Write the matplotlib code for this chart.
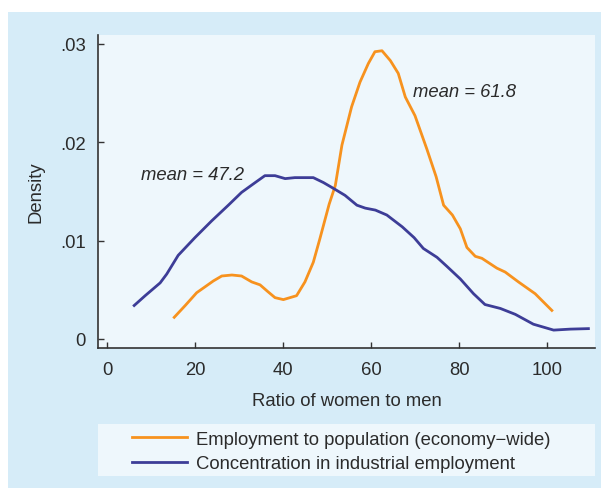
import numpy as np
import matplotlib
matplotlib.use('Agg')
import matplotlib.pyplot as plt
from matplotlib.patches import Rectangle

# data (ratio of women to men, density)
emp_x = [15.2, 17.7, 20.3, 22.2, 24.1, 26.0, 28.3, 30.5, 32.8, 34.7, 36.5, 38.1,
         40.0, 43.0, 44.9, 46.8, 48.3, 50.4, 51.8, 53.3, 55.5, 57.4, 59.3, 60.8,
         62.4, 64.3, 66.1, 67.7, 69.9, 72.6, 74.7, 76.4, 78.4, 80.2, 81.7, 83.6,
         85.1, 88.5, 90.4, 93.4, 97.2, 101.0]
emp_y = [0.0022, 0.0034, 0.0047, 0.0053, 0.0059, 0.0064, 0.0065, 0.0064, 0.0058,
         0.0055, 0.0048, 0.0042, 0.0040, 0.0044, 0.0058, 0.0078, 0.0102, 0.0137,
         0.0156, 0.0197, 0.0236, 0.0261, 0.0280, 0.0292, 0.0293, 0.0283, 0.0270,
         0.0246, 0.0227, 0.0193, 0.0165, 0.0136, 0.0126, 0.0112, 0.0093, 0.0084,
         0.0082, 0.0072, 0.0068, 0.0058, 0.0046, 0.0029]

ind_x = [6.1, 8.6, 12.0, 13.5, 16.1, 19.9, 23.7, 27.5, 30.5, 33.6, 35.8, 38.1,
         40.4, 42.6, 44.5, 46.8, 49.1, 51.4, 54.0, 56.7, 58.6, 60.9, 63.5, 67.0,
         69.7, 71.8, 74.9, 77.1, 80.2, 83.2, 85.8, 89.3, 92.7, 96.8, 101.4, 105.2,
         109.3]
ind_y = [0.0034, 0.0044, 0.0057, 0.0066, 0.0085, 0.0103, 0.0120, 0.0136, 0.0149,
         0.0159, 0.0166, 0.0166, 0.0163, 0.0164, 0.0164, 0.0164, 0.0159, 0.0153,
         0.0146, 0.0136, 0.0133, 0.0131, 0.0126, 0.0114, 0.0103, 0.0092, 0.0083,
         0.0074, 0.0061, 0.0046, 0.0035, 0.0031, 0.0025, 0.0015, 0.0009, 0.0010,
         0.00105]

labels = ['Employment to population (economy\u2212wide)',
          'Concentration in industrial employment']
xticks = [0, 20, 40, 60, 80, 100]
yticks = [0, 0.01, 0.02, 0.03]
ytick_labels = ['0', '.01', '.02', '.03']

orange = '#f7921e'
navy = '#3d3d97'
panel = '#d6ecf8'
plotbg = '#eef7fc'
txt = '#2b2b2b'

plt.rcParams['font.family'] = ['Liberation Sans', 'DejaVu Sans']
fs = 13.3

W, H = 601, 489
fig = plt.figure(figsize=(W / 100, H / 100), dpi=100)
fig.patch.set_facecolor('white')

def px(x0, y0, x1, y1):
    # pixel box (top-left origin) -> figure fraction [l, b, w, h]
    return [x0 / W, 1 - y1 / H, (x1 - x0) / W, (y1 - y0) / H]

l, b, w, h = px(8, 13, 601, 489)
fig.patches.append(Rectangle((l, b), w, h, transform=fig.transFigure,
                             facecolor=panel, edgecolor='none', zorder=-10))
l, b, w, h = px(98, 425, 595, 477)
fig.patches.append(Rectangle((l, b), w, h, transform=fig.transFigure,
                             facecolor=plotbg, edgecolor='none', zorder=-9))

ax = fig.add_axes(px(98.3, 36, 595, 349.3))
ax.set_zorder(2)
ax.set_facecolor(plotbg)

ln1, = ax.plot(emp_x, emp_y, color=orange, lw=2.0, solid_joinstyle='round')
ln2, = ax.plot(ind_x, ind_y, color=navy, lw=2.0, solid_joinstyle='round')

ax.text(69.5, 0.0252, 'mean = 61.8', style='italic', fontsize=fs, color=txt,
        va='center', ha='left')
ax.text(7.7, 0.0167, 'mean = 47.2', style='italic', fontsize=fs, color=txt,
        va='center', ha='left')

ax.set_xlim(-2.05, 110.8)
ax.set_ylim(-0.00095, 0.0309)
ax.set_xticks(xticks)
ax.set_yticks(yticks)
ax.set_yticklabels(ytick_labels)

for s in ['top', 'right']:
    ax.spines[s].set_visible(False)
for s in ['left', 'bottom']:
    ax.spines[s].set_color('#333333')
    ax.spines[s].set_linewidth(1.2)
ax.tick_params(direction='in', length=4, width=1, color='#333333',
               labelsize=fs, labelcolor=txt)
ax.tick_params(axis='y', pad=9)
ax.tick_params(axis='x', pad=9)

ax.set_xlabel('Ratio of women to men', fontsize=fs, color=txt, labelpad=10)
ax.set_ylabel('Density', fontsize=fs, color=txt, labelpad=11)

leg = fig.legend([ln1, ln2], labels, loc='center left',
                 bbox_to_anchor=(131.7 / W, 1 - 452.3 / H), frameon=False,
                 fontsize=fs, handlelength=3.0, handletextpad=0.47,
                 labelspacing=0.4, borderpad=0, borderaxespad=0)
leg.set_zorder(5)
for t in leg.get_texts():
    t.set_color(txt)

fig.savefig('out.png', dpi=100)
